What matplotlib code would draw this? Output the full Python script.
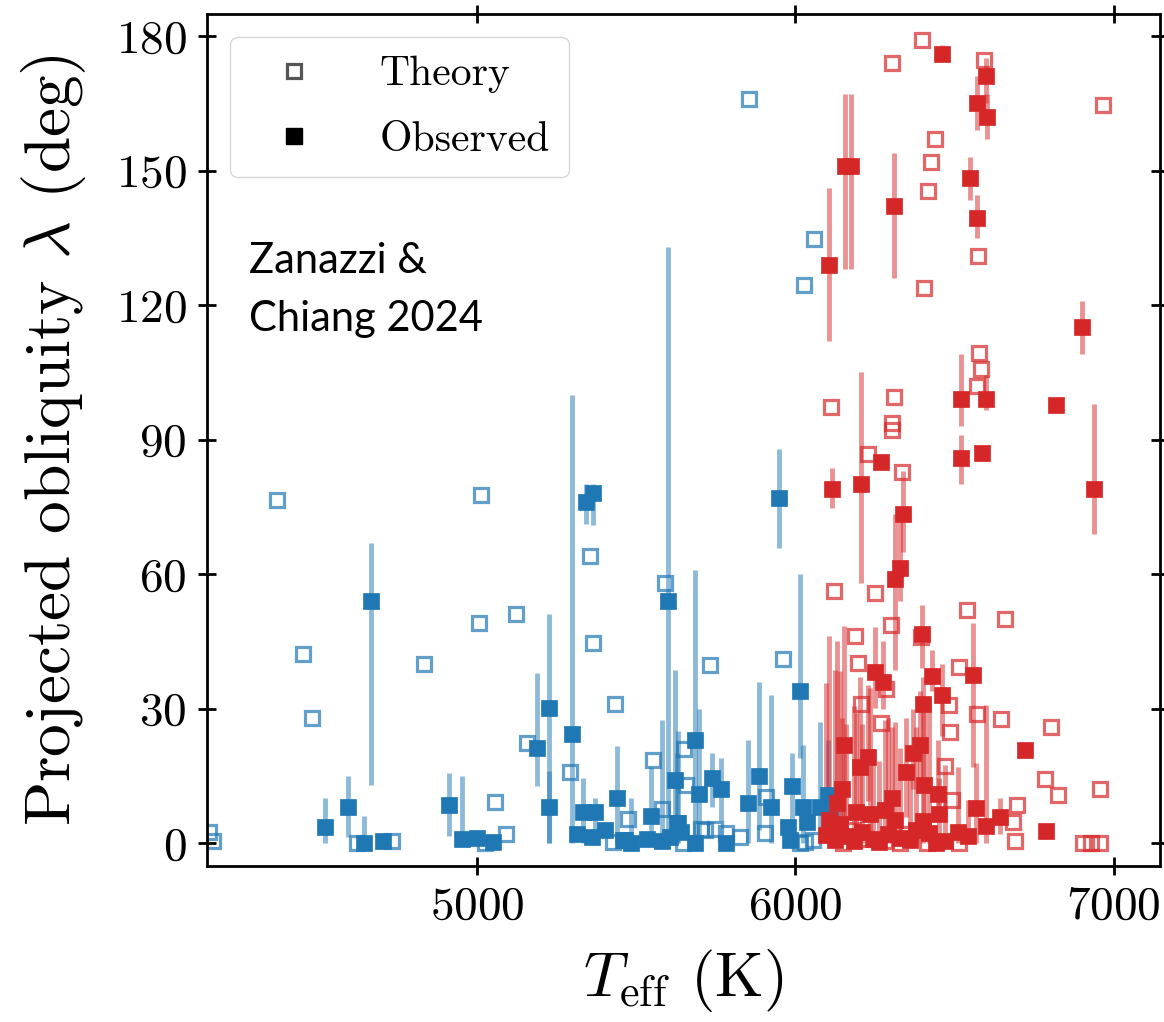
import numpy as np
import matplotlib
matplotlib.use("Agg")
import matplotlib.pyplot as plt
from matplotlib.lines import Line2D

plt.rcParams['font.family'] = 'cmr10'
plt.rcParams['mathtext.fontset'] = 'cm'
plt.rcParams['axes.formatter.use_mathtext'] = True

blue = '#1f77b4'
red = '#d62728'

# ---- cool stars (blue) ----
# theory predictions
cool_th_T = [4158, 4170, 4371, 4454, 4481, 4622, 4732, 4833, 5006, 5012,
             5025, 5058, 5091, 5122, 5156, 5292, 5355, 5364, 5427, 5433,
             5475, 5553, 5580, 5590, 5648, 5651, 5658, 5705, 5716, 5731,
             5747, 5782, 5826, 5854, 5904, 5909, 5961, 6014, 6027, 6030,
             6056, 6057]
cool_th_lam = [2.5, 0.5, 76.5, 42.2, 27.9, 0.0, 0.5, 40.0, 49.0, 77.6,
               0.0, 9.1, 2.0, 51.0, 22.4, 15.8, 64.0, 44.6, 0.3, 31.0,
               5.3, 18.5, 7.7, 58.0, 0.0, 21.0, 13.0, 3.2, 2.9, 39.7,
               3.2, 2.3, 1.4, 166.0, 2.2, 10.3, 41.0, 0.0, 124.5, 0.3,
               0.7, 134.7]

# observed: value, minus error, plus error
cool_ob_T = [4523, 4595, 4645, 4666, 4704, 4911, 4952, 4999, 5050, 5190,
             5226, 5227, 5300, 5313, 5332, 5344, 5365, 5360, 5370, 5402,
             5440, 5460, 5464, 5485, 5533, 5548, 5580, 5601, 5606, 5621,
             5627, 5631, 5642, 5684, 5684, 5698, 5737, 5768, 5782, 5852,
             5886, 5925, 5950, 5977, 5983, 5988, 6016, 6024, 6035, 6077,
             6102, 6108]
cool_ob_lam = [3.5, 8.0, 0.0, 54.0, 0.5, 8.5, 0.9, 1.1, 0.3, 21.2,
               30.1, 8.0, 24.3, 2.1, 7.0, 76.1, 78.0, 1.4, 7.0, 2.9,
               10.0, 0.7, 0.7, 0.0, 1.0, 6.0, 0.5, 54.0, 1.4, 14.0,
               4.4, 4.4, 2.5, 23.0, 0.0, 11.0, 14.6, 12.0, 0.0, 9.0,
               15.0, 8.0, 76.9, 3.6, 0.7, 12.7, 34.0, 8.0, 4.8, 8.0,
               10.7, 5.5]
cool_ob_lo = [3.5, 6.7, 0.0, 41.0, 0.0, 6.9, 0.0, 0.0, 0.0, 8.4,
              30.1, 8.0, 24.3, 0.0, 7.0, 5.0, 7.0, 0.0, 7.0, 0.0,
              10.0, 0.0, 0.0, 0.0, 0.0, 6.0, 0.0, 52.0, 0.0, 14.0,
              4.4, 4.4, 0.0, 23.0, 0.0, 11.0, 6.6, 7.0, 0.0, 9.0,
              12.0, 8.0, 11.0, 0.0, 0.0, 7.7, 15.0, 8.0, 0.0, 8.0,
              10.7, 0.0]
cool_ob_hi = [6.5, 7.0, 6.0, 13.0, 0.0, 7.2, 14.0, 0.0, 0.0, 16.8,
              21.0, 8.0, 75.7, 0.0, 7.6, 4.0, 2.0, 0.0, 3.0, 0.0,
              11.6, 0.0, 0.0, 10.0, 0.0, 11.0, 27.0, 79.0, 0.0, 24.7,
              15.6, 20.6, 0.0, 38.0, 0.0, 19.0, 5.4, 7.0, 0.0, 14.0,
              21.0, 25.0, 11.0, 0.0, 0.0, 7.3, 26.0, 14.0, 0.0, 19.0,
              12.3, 0.0]

# ---- hot stars (red) ----
hot_th_T = [6397, 6303, 6594, 6965, 6438, 6427, 6416, 6575, 6403, 6576,
            6582, 6572, 6112, 6310, 6303, 6303, 6227, 6336, 6121, 6250,
            6539, 6658, 6299, 6187, 6396, 6197, 6513, 6205, 6286, 6270,
            6483, 6569, 6647, 6804, 6487, 6469, 6785, 6825, 6956, 6696,
            6493, 6684, 6689, 6514, 6904, 6930, 6958, 6412, 6150, 6222,
            6281, 6352, 6180, 6330]
hot_th_lam = [179.0, 174.0, 174.6, 164.6, 157.0, 152.0, 145.4, 131.0, 123.8, 109.3,
              105.7, 102.0, 97.3, 99.6, 93.6, 92.1, 86.8, 82.8, 56.2, 55.8,
              52.1, 49.9, 48.6, 46.2, 46.0, 40.2, 39.2, 31.0, 34.3, 26.8,
              30.8, 28.9, 27.6, 25.9, 24.8, 17.2, 14.2, 10.7, 12.0, 8.5,
              9.6, 4.8, 0.5, 0.0, 0.0, 0.0, 0.0, 0.0, 0.0, 1.0,
              0.5, 2.0, 3.0, 0.0]

hot_ob_T = [6105, 6155, 6175, 6309, 6459, 6598, 6569, 6601, 6550, 6572,
            6900, 6521, 6600, 6818, 6521, 6585, 6939, 6268, 6207, 6116,
            6338, 6330, 6313, 6398, 6429, 6558, 6461, 6401, 6250, 6274,
            6153, 6228, 6202, 6148, 6721, 6391, 6371, 6349, 6567, 6403,
            6448, 6302, 6452, 6642, 6600, 6788, 6511, 6543, 6441, 6401,
            6106, 6140, 6191, 6234, 6312, 6097, 6123, 6160, 6185, 6210,
            6245, 6262, 6290, 6330, 6360, 6380, 6420, 6470, 6130, 6280]
hot_ob_lam = [129.0, 151.0, 151.0, 142.0, 176.0, 171.0, 165.0, 162.0, 148.4, 139.5,
              115.0, 99.0, 99.0, 97.7, 86.0, 87.1, 79.0, 85.0, 80.0, 79.0,
              73.4, 61.3, 58.8, 46.7, 37.2, 37.5, 33.0, 31.0, 38.2, 36.0,
              22.0, 19.3, 17.0, 12.0, 20.7, 21.9, 20.0, 15.9, 7.9, 13.0,
              11.0, 10.0, 6.5, 5.9, 3.9, 2.7, 2.5, 1.6, 0.0, 5.0,
              5.1, 4.3, 7.0, 6.6, 5.1, 1.8, 0.7, 1.5, 0.5, 2.5,
              1.0, 0.3, 2.0, 1.2, 0.8, 3.0, 2.2, 0.4, 9.0, 7.5]
hot_ob_lo = [17.0, 23.0, 23.0, 16.0, 0.0, 6.0, 6.0, 5.0, 4.9, 4.5,
             6.0, 6.0, 2.4, 0.0, 6.0, 0.0, 10.0, 0.0, 22.0, 4.2,
             8.4, 7.3, 20.2, 7.7, 3.2, 20.5, 9.0, 6.0, 8.0, 6.0,
             22.0, 10.0, 9.0, 12.0, 0.0, 10.0, 8.0, 10.0, 7.9, 8.0,
             6.0, 10.0, 6.5, 3.9, 3.9, 0.0, 2.5, 1.6, 0.0, 5.0,
             5.1, 4.3, 7.0, 6.6, 5.1, 1.8, 0.7, 1.5, 0.5, 2.5,
             1.0, 0.3, 2.0, 1.2, 0.8, 3.0, 2.2, 0.4, 9.0, 7.5]
hot_ob_hi = [17.0, 16.0, 16.0, 12.0, 2.0, 4.0, 6.0, 5.0, 4.6, 5.1,
             6.0, 10.0, 5.5, 0.0, 5.0, 0.0, 19.0, 0.0, 25.0, 4.6,
             9.6, 12.7, 14.7, 6.3, 5.8, 11.5, 7.0, 6.0, 10.0, 9.0,
             26.5, 16.0, 20.0, 16.0, 0.0, 12.0, 10.0, 12.0, 10.0, 18.0,
             12.0, 16.0, 8.0, 4.1, 27.0, 0.0, 14.5, 8.0, 0.0, 20.0,
             41.0, 34.0, 22.0, 28.0, 22.0, 34.0, 38.0, 25.0, 30.0, 24.0,
             20.0, 18.0, 26.0, 20.0, 15.0, 23.0, 30.0, 17.0, 36.0, 20.0]


fig = plt.figure(figsize=(11.64, 10.22), dpi=100)
ax = fig.add_axes([0.1778, 0.1526, 0.8187, 0.8337])

for th_T, th_lam, ob_T, ob_lam, lo, hi, col in [
        (cool_th_T, cool_th_lam, cool_ob_T, cool_ob_lam, cool_ob_lo, cool_ob_hi, blue),
        (hot_th_T, hot_th_lam, hot_ob_T, hot_ob_lam, hot_ob_lo, hot_ob_hi, red)]:
    ax.plot(th_T, th_lam, ls='none', marker='s', ms=10.5, mfc='none',
            mec=col, mew=2.3, alpha=0.7, zorder=2)
    ax.errorbar(ob_T, ob_lam, yerr=[lo, hi], fmt='none', ecolor=col,
                elinewidth=3.5, alpha=0.5, capsize=0, zorder=3)
    ax.plot(ob_T, ob_lam, ls='none', marker='s', ms=12, mfc=col, mec=col,
            mew=0.5, zorder=4)

ax.set_xlim(4152, 7145)
ax.set_ylim(-5.1, 184.9)
ax.set_xticks([5000, 6000, 7000])
ax.set_yticks(np.arange(0, 181, 30))
ax.tick_params(direction='inout', length=13, width=2, labelsize=34,
               top=True, right=True, pad=8)
for sp in ax.spines.values():
    sp.set_linewidth(2)

ax.set_xlabel(r'$T_{\rm eff}$ (K)', fontsize=45, labelpad=14)
ax.set_ylabel(r'Projected obliquity $\lambda$ (deg)', fontsize=47, labelpad=20)

ax.text(0.044, 0.732, 'Zanazzi &\nChiang 2024', transform=ax.transAxes,
        family='Lato', fontsize=30, va='top', ha='left', linespacing=1.62)

handles = [Line2D([], [], ls='none', marker='s', ms=10.5, mfc='none',
                  mec='#555555', mew=2.3),
           Line2D([], [], ls='none', marker='s', ms=12, mfc='black', mec='black')]
ax.legend(handles, ['Theory', 'Observed'], loc='upper left',
          bbox_to_anchor=(0.024, 0.973), borderaxespad=0, fontsize=30,
          handletextpad=0.95, handlelength=2.2, borderpad=0.45, labelspacing=0.67)

fig.savefig('out.png', dpi=100)
